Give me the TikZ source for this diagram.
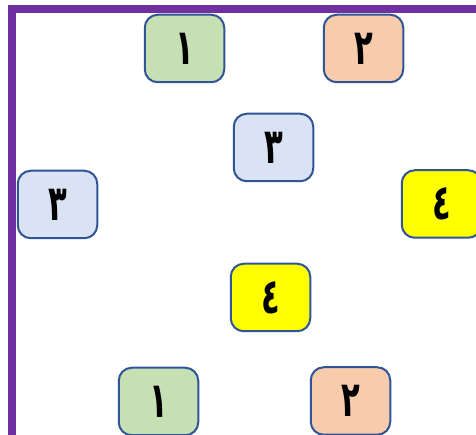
\documentclass[tikz,border=0pt]{standalone}
\usepackage{fontspec}
\usepackage{graphicx}
\usepackage{tikz}
\TeXXeTstate=1
\newfontfamily\arabicfont[Script=Arabic]{DejaVu Sans}
\newcommand{\digit}[1]{\scalebox{0.9}[1.45]{\beginR #1\endR}}
\definecolor{framepurple}{HTML}{7030A0}
\definecolor{boxline}{HTML}{2F5597}
\definecolor{cgreen}{HTML}{C6E0B4}
\definecolor{corange}{HTML}{F8CBAD}
\definecolor{cblue}{HTML}{DAE3F3}
\definecolor{cyellow}{HTML}{FFFF00}

\begin{document}
\begin{tikzpicture}
	[x=1pt,y=1pt,every node/.style={rectangle,rounded corners=13pt,draw=boxline,line width=2pt,
	minimum width=79.5pt,minimum height=67.5pt,inner sep=0pt,font=\arabicfont\bfseries\fontsize{34}{40}\selectfont}]
	\tikzstyle{frame} = [line width=7.5pt,draw=framepurple];
	
	\useasboundingbox (0,0) rectangle (476,435);
	\clip (0,0) rectangle (476,435);
	
	\coordinate (f1) at (12,0);
	\coordinate (f2) at (12,426);
	\coordinate (f3) at (476,426);
	\draw[frame] (f1) -- (f2) -- (f3);
	
	\node[fill=cgreen] (n1) at (184.5,386.5) {\digit{١}};
	\node[fill=corange] (n2) at (363.5,386.5) {\digit{٢}};
	\node[fill=cblue] (n3) at (273.5,287.5) {\digit{٣}};
	\node[fill=cblue] (n4) at (57.5,230.5) {\digit{٣}};
	\node[fill=cyellow] (n5) at (441.5,231) {\digit{٤}};
	\node[fill=cyellow] (n6) at (270.5,137.5) {\digit{٤}};
	\node[fill=cgreen] (n7) at (158.5,33.5) {\digit{١}};
	\node[fill=corange] (n8) at (350.5,34) {\digit{٢}};
\end{tikzpicture}
\end{document}
